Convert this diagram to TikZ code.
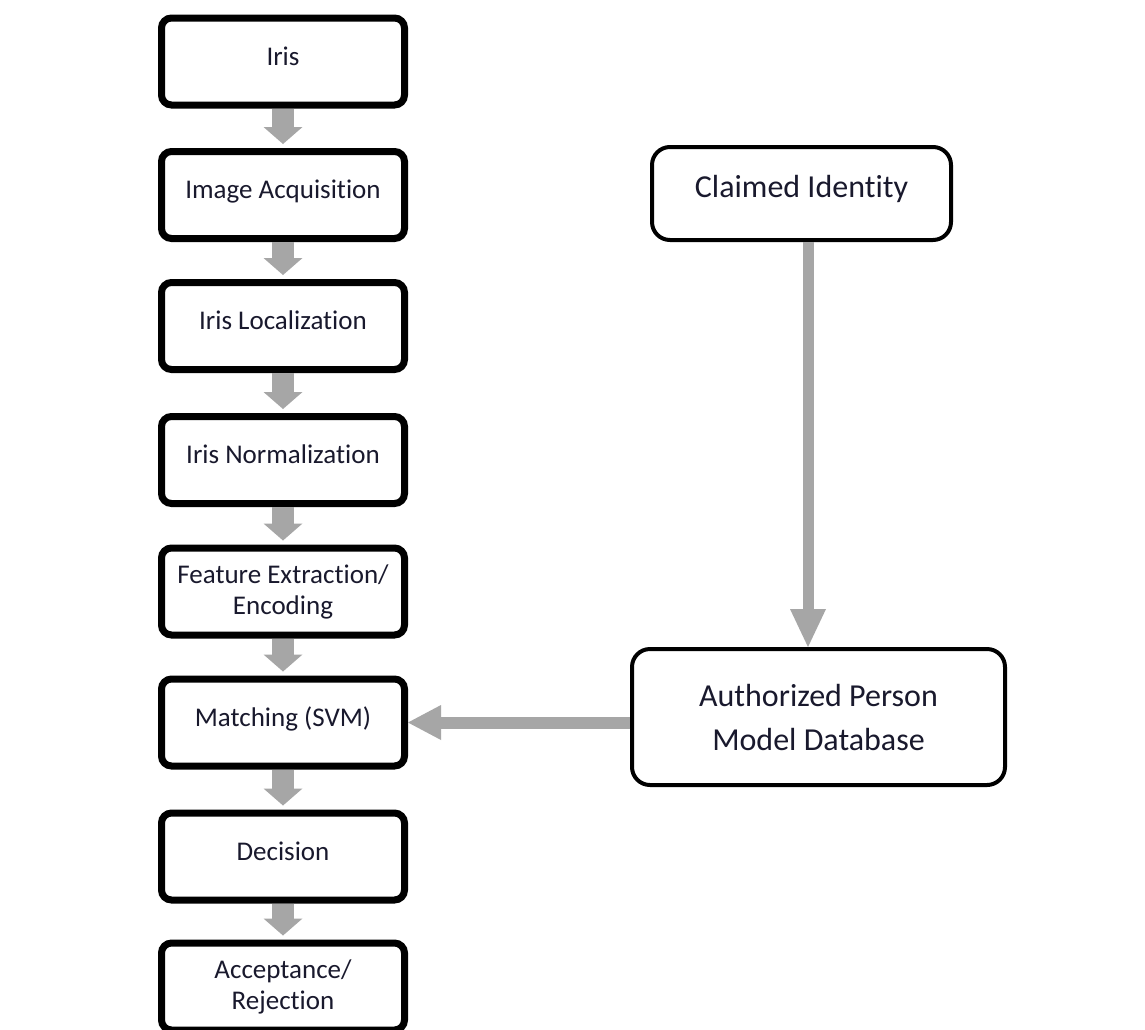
\documentclass[tikz,border=0pt]{standalone}
\usepackage{fontspec}
\setmainfont{Carlito}[Ligatures={NoCommon}]
\usetikzlibrary{arrows.meta,calc}
\definecolor{arrgray}{RGB}{166,166,166}
\definecolor{txtdark}{RGB}{25,25,45}
\tikzset{
  leftbox/.style={draw=black, fill=white, line width=7pt, rounded corners=10pt,
    minimum width=243pt, minimum height=87pt, inner sep=0pt, align=center,
    text=txtdark, font=\fontsize{27}{31}\selectfont},
  oneline/.style={text height=16pt, text depth=9pt},
  rightbox/.style={draw=black, fill=white, line width=4pt, rounded corners=18pt,
    inner sep=0pt, align=center, text=txtdark, font=\fontsize{32}{44}\selectfont},
  flowarrow/.style={draw=arrgray, line width=22pt,
    -{Triangle[length=17pt,width=39pt,line width=0pt]}, shorten >=4pt},
  vlink/.style={draw=arrgray, line width=11pt,
    -{Triangle[length=38pt,width=36pt,line width=0pt]}},
  hlink/.style={draw=arrgray, line width=12pt,
    -{Triangle[length=33pt,width=35pt,line width=0pt]}}
}
\begin{document}
\begin{tikzpicture}[x=1pt,y=-1pt]
\useasboundingbox[fill=white] (0,0) rectangle (1145,1029);
% left column
\node[leftbox,oneline] (iris)  at (283,61.5)  {Iris};
\node[leftbox,oneline] (acq)   at (283,195)   {Image Acquisition};
\node[leftbox,oneline] (loc)   at (283,326)   {Iris Localization};
\node[leftbox,oneline] (norm)  at (283,460)   {Iris Normalization};
\node[leftbox]         (feat)  at (283,591.5) {Feature Extraction/\\Encoding};
\node[leftbox,oneline] (match) at (283,722.5) {Matching (SVM)};
\node[leftbox,oneline] (dec)   at (283,856.5) {Decision};
\node[leftbox]         (acc)   at (283,986.5) {Acceptance/\\Rejection};
% right column
\node[rightbox, minimum width=299pt, minimum height=93pt, text height=20pt, text depth=13pt]
  (claim) at (801.5,193.5) {Claimed Identity};
\node[rightbox, minimum width=373pt, minimum height=136pt]
  (apmd) at (818.5,717) {Authorized Person\\Model Database};
% flow arrows
\draw[flowarrow] (iris.south) -- (acq.north);
\draw[flowarrow] (acq.south)  -- (loc.north);
\draw[flowarrow] (loc.south)  -- (norm.north);
\draw[flowarrow] (norm.south) -- (feat.north);
\draw[flowarrow] (feat.south) -- (match.north);
\draw[flowarrow] (match.south) -- (dec.north);
\draw[flowarrow] (dec.south)  -- (acc.north);
% links
\draw[vlink] ([xshift=6.5pt]claim.south) -- ([xshift=-10.5pt]apmd.north);
\draw[hlink] (apmd.west |- match.east) -- (match.east);
\end{tikzpicture}
\end{document}
